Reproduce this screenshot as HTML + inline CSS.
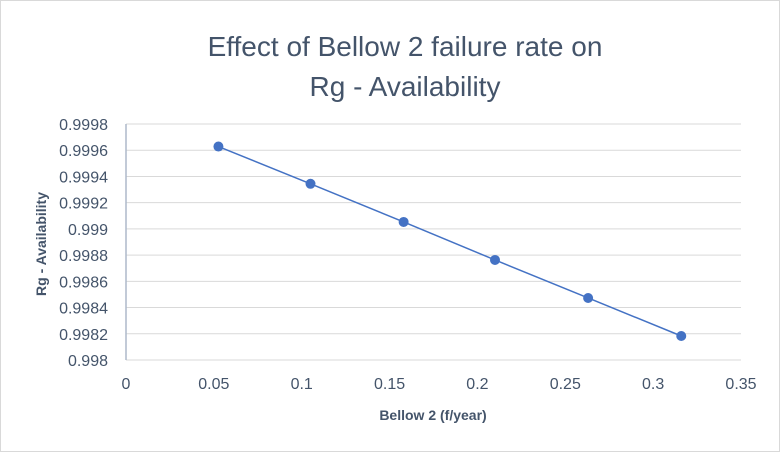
<!DOCTYPE html>
<html><head><meta charset="utf-8"><style>
body{margin:0;background:#fff;}
svg{display:block;font-family:"Liberation Sans",sans-serif;}
</style></head><body>
<svg id="chart" width="780" height="452">
<rect x="0.5" y="0.5" width="779" height="451" fill="#fff" stroke="#d9d9d9"/>
<text x="405" y="56" text-anchor="middle" font-size="28" fill="#44546a">Effect of Bellow 2 failure rate on</text>
<text x="405" y="96" text-anchor="middle" font-size="28" fill="#44546a">Rg - Availability</text>
<g id="grid"></g><g id="axes"></g><g id="series"></g>
<text x="433" y="420" text-anchor="middle" font-size="14" font-weight="bold" fill="#44546a">Bellow 2 (f/year)</text>
<text transform="translate(46,244) rotate(-90)" text-anchor="middle" font-size="14" font-weight="bold" fill="#44546a">Rg - Availability</text>
</svg>
<script>
const xValues=[0.0526,0.105,0.158,0.21,0.263,0.316];
const yValues=[0.999628,0.999344,0.999053,0.998763,0.998473,0.998183];
const yTicks=[0.998,0.9982,0.9984,0.9986,0.9988,0.999,0.9992,0.9994,0.9996,0.9998];
const xTicks=[0,0.05,0.1,0.15,0.2,0.25,0.3,0.35];
const NS="http://www.w3.org/2000/svg";
const X0=126,X1=741,Y0=360,Y1=124;
const sx=v=>X0+(v-0)/(0.35)*(X1-X0);
const sy=v=>Y0-(v-0.998)/(0.0018)*(Y0-Y1);
function mk(t,a,p){const e=document.createElementNS(NS,t);for(const k in a)e.setAttribute(k,a[k]);p.appendChild(e);return e;}
const grid=document.getElementById('grid'),axes=document.getElementById('axes'),ser=document.getElementById('series');
yTicks.forEach((v,i)=>{
 const y=sy(v);
 const l=mk('line',{x1:X0,x2:X1,y1:y,y2:y,stroke:'#d9d9d9','stroke-width':1},grid);
 
 
 const t=mk('text',{x:108,y:y+6,'text-anchor':'end','font-size':16,fill:'#44546a'},axes);
 t.textContent=String(v);
 
 
});
const ax=mk('line',{x1:X0,x2:X0,y1:Y1,y2:Y0,stroke:'#adb9ca','stroke-width':1.5},axes);


xTicks.forEach(v=>{
 const t=mk('text',{x:sx(v),y:389,'text-anchor':'middle','font-size':16,fill:'#44546a'},axes);
 t.textContent=String(v);
 
 
});
const pts=xValues.map((x,i)=>sx(x)+','+sy(yValues[i])).join(' ');
const pl=mk('polyline',{points:pts,fill:'none',stroke:'#4472c4','stroke-width':1.5},ser);


xValues.forEach((x,i)=>{
 const c=mk('circle',{cx:sx(x),cy:sy(yValues[i]),r:5,fill:'#4472c4'},ser);
 
 
});
</script>
</body></html>
